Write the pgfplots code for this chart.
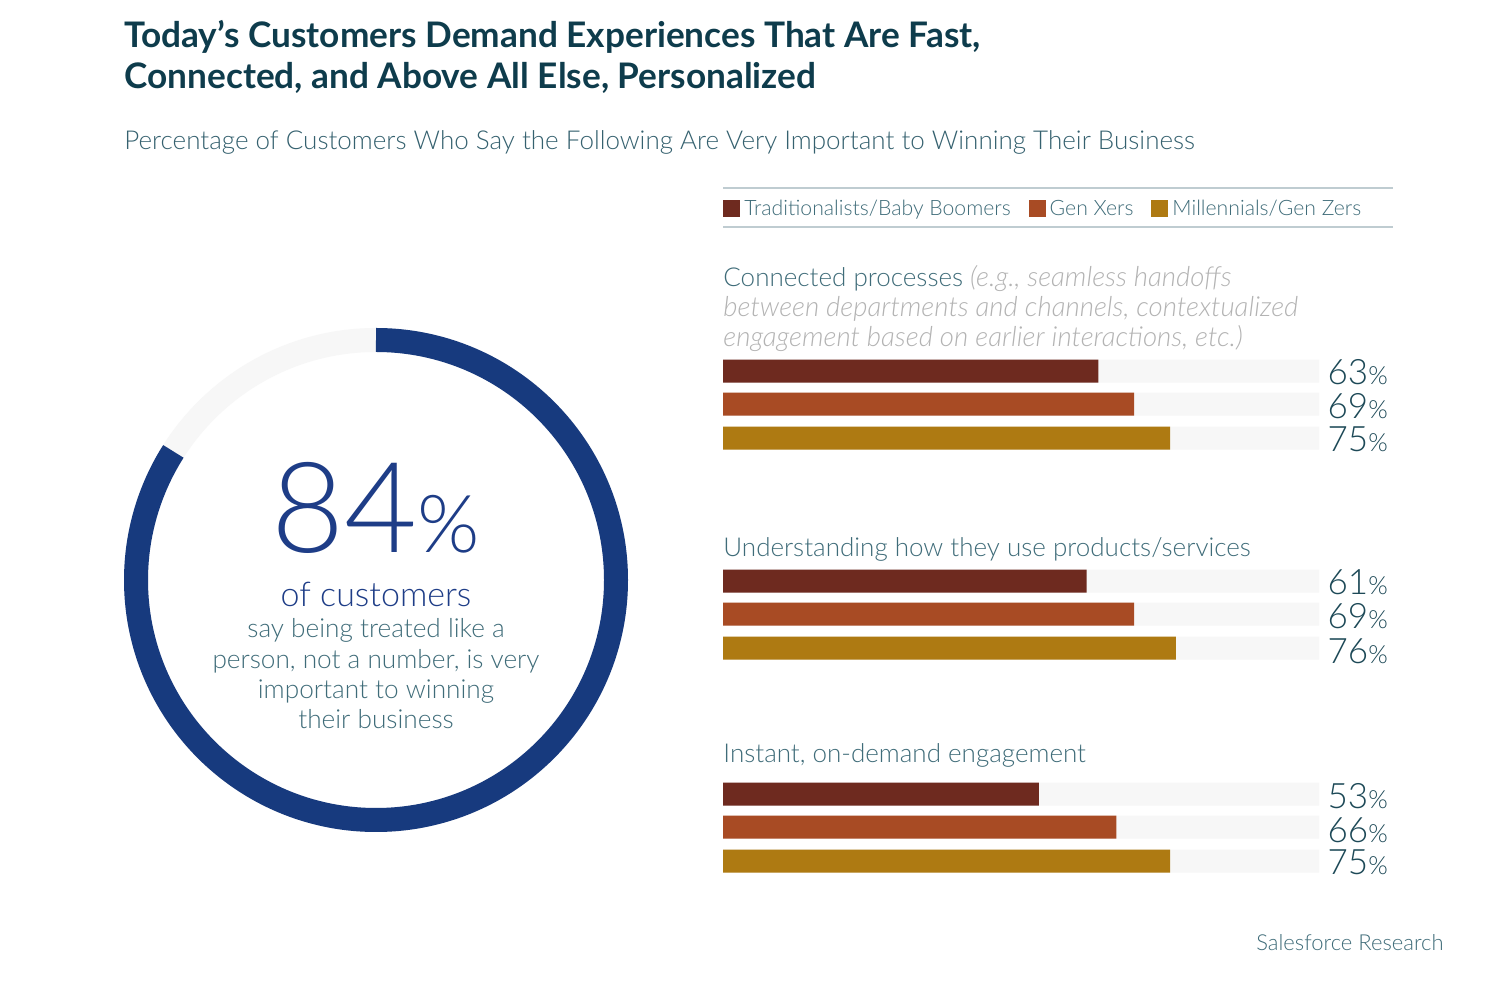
\documentclass[border=0pt]{standalone}
\usepackage{fontspec}
\setmainfont{Lato}
\newfontfamily\lightfont{Lato Light}
\usepackage{pgfplots}
\pgfplotsset{compat=1.18}
\definecolor{titlec}{HTML}{0E3C4C}
\definecolor{subc}{HTML}{35616F}
\definecolor{textc}{HTML}{3F6C79}
\definecolor{numc}{HTML}{1D4957}
\definecolor{boom}{HTML}{6E2A1F}
\definecolor{genx}{HTML}{A84B24}
\definecolor{mill}{HTML}{AE7A12}
\definecolor{track}{HTML}{F7F7F7}
\definecolor{donut}{HTML}{173A7E}
\definecolor{bigc}{HTML}{1E3D87}
\definecolor{italc}{HTML}{B3B3B3}
\definecolor{rulec}{HTML}{BFCCD1}
\newcommand{\fs}[1]{\fontsize{#1}{#1}\selectfont}
\def\donutval{84}
\pgfplotsset{
  mybar/.style={xbar, bar shift=0pt, bar width=11.5pt, draw=none},
}
\begin{document}
\begin{tikzpicture}[x=0.5pt,y=-0.5pt]
\fill[white] (0,0) rectangle (1512,988);
% titles
\node[anchor=base west, inner sep=0pt, text=titlec, font=\fs{17.6}\bfseries] at (124,48) {Today’s Customers Demand Experiences That Are Fast,};
\node[anchor=base west, inner sep=0pt, text=titlec, font=\fs{17.6}\bfseries] at (124,89) {Connected, and Above All Else, Personalized};
\node[anchor=base west, inner sep=0pt, text=subc, font=\lightfont\fs{13}] at (124,150) {Percentage of Customers Who Say the Following Are Very Important to Winning Their Business};
% legend rules
\draw[rulec, line width=1pt] (723,188) -- (1393,188);
\draw[rulec, line width=1pt] (723,227) -- (1393,227);
% group headers
\node[anchor=base west, inner sep=0pt, font=\lightfont\fs{13}] at (723,287) {\textcolor{textc}{Connected processes} \textcolor{italc}{\fs{13.8}\itshape (e.g., seamless handoffs}};
\node[anchor=base west, inner sep=0pt, font=\lightfont\fs{13.8}\itshape, text=italc] at (723,317) {between departments and channels, contextualized};
\node[anchor=base west, inner sep=0pt, font=\lightfont\fs{13.8}\itshape, text=italc] at (723,347) {engagement based on earlier interactions, etc.)};
\node[anchor=base west, inner sep=0pt, font=\lightfont\fs{13}, text=textc] at (723,557) {Understanding how they use products/services};
\node[anchor=base west, inner sep=0pt, font=\lightfont\fs{13}, text=textc] at (723,763) {Instant, on-demand engagement};
% source
\node[anchor=base east, inner sep=0pt, font=\lightfont\fs{11}, text=textc] at (1444,951) {Salesforce Research};
% bars
\begin{axis}[at={(361.5pt,-170pt)}, anchor=north west, x=2.98pt, y=0.5pt, y dir=reverse,
  xmin=0, xmax=100, ymin=340, ymax=880, hide axis, clip=false,
  legend columns=3,
  legend style={at={(0,1.2426)}, anchor=west, draw=none, fill=none, inner sep=0pt,
    font=\lightfont\fs{10.6}, text=textc, legend cell align=left,
    /tikz/every even column/.append style={column sep=7pt},
    /tikz/every odd column/.append style={column sep=0pt}},
]
\addplot[mybar, fill=track, forget plot] coordinates {(100,371) (100,404) (100,438) (100,581) (100,614) (100,648) (100,794) (100,827) (100,861)};
\addplot[mybar, fill=boom, legend image code/.code={\fill[boom] (0pt,-4.25pt) rectangle (8.5pt,4.25pt);}] coordinates {(63,371) (61,581) (53,794)};
\addlegendentry{Traditionalists/Baby Boomers}
\addplot[mybar, fill=genx, legend image code/.code={\fill[genx] (0pt,-4.25pt) rectangle (8.5pt,4.25pt);}] coordinates {(69,404) (69,614) (66,827)};
\addlegendentry{Gen Xers}
\addplot[mybar, fill=mill, legend image code/.code={\fill[mill] (0pt,-4.25pt) rectangle (8.5pt,4.25pt);}] coordinates {(75,438) (76,648) (75,861)};
\addlegendentry{Millennials/Gen Zers}
\addplot[forget plot, draw=none, mark=none, point meta=explicit symbolic,
  nodes near coords={\lightfont\fs{17.5}\pgfplotspointmeta{\fs{12.5}\%}},
  every node near coord/.append style={anchor=east, inner sep=0pt, text=numc}]
  coordinates {(111.6,372)[63] (111.6,406)[69] (111.6,439)[75]
               (111.6,582)[61] (111.6,616)[69] (111.6,651)[76]
               (111.6,796)[53] (111.6,830)[66] (111.6,862)[75]};
\end{axis}
% donut
\begin{axis}[at={(188pt,-290pt)}, anchor=center, x=0.5pt, y=0.5pt,
  xmin=-260, xmax=260, ymin=-260, ymax=260, hide axis, clip=false]
\draw[track, line width=12pt] (axis cs:0,0) circle[radius=120pt];
\draw[donut, line width=12pt] (axis cs:0,240) arc[start angle=90, end angle={90-3.6*\donutval}, radius=120pt];
\end{axis}
\node[anchor=base, inner sep=0pt, text=bigc, font=\lightfont] at (376,553) {{\fs{63}84}{\fs{40}\%}};
\node[anchor=base, inner sep=0pt, text=bigc, font=\lightfont\fs{17}] at (376,607) {of customers};
\node[anchor=base, inner sep=0pt, text=textc, font=\lightfont\fs{13.1}] at (376,638) {say being treated like a};
\node[anchor=base, inner sep=0pt, text=textc, font=\lightfont\fs{13.1}] at (376,669) {person, not a number, is very};
\node[anchor=base, inner sep=0pt, text=textc, font=\lightfont\fs{13.1}] at (376,699) {important to winning};
\node[anchor=base, inner sep=0pt, text=textc, font=\lightfont\fs{13.1}] at (376,729) {their business};
\end{tikzpicture}
\end{document}
